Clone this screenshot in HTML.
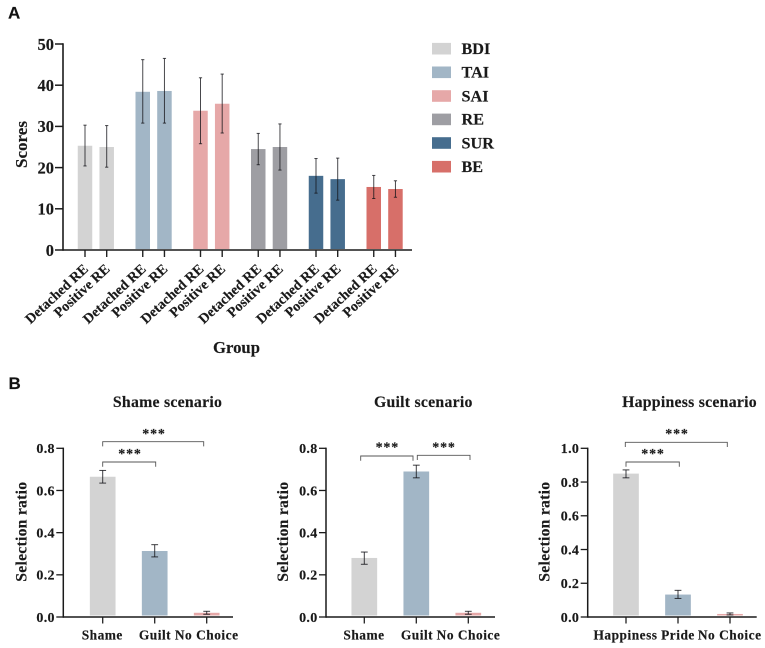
<!DOCTYPE html>
<html>
<head>
<meta charset="utf-8">
<title>Scores and selection ratios</title>
<style>
html,body{margin:0;padding:0;background:#fff;}
svg{display:block;filter:blur(0.3px);}
text{font-family:"Liberation Serif",serif;font-weight:bold;fill:#1a1a1a;stroke:#1a1a1a;stroke-width:0.15px;}
.panel{font-family:"Liberation Sans",sans-serif;font-size:17px;fill:#111;}
</style>
</head>
<body>
<svg id="fig" xmlns="http://www.w3.org/2000/svg" width="765" height="648" viewBox="0 0 765 648">
<text class="panel" x="8" y="18.5">A</text>
<text class="panel" x="8.5" y="389">B</text>
</svg>
<script>
const scoreGroups = ['BDI','TAI','SAI','RE','SUR','BE'];
const scoreConditions = ['Detached RE','Positive RE'];
const scoreColors = ['#d3d3d3','#a2b6c6','#e6a8a8','#9e9ea3','#466d8e','#d76f69'];
const scoreValues = [[25.3,25.0],[38.4,38.6],[33.8,35.5],[24.5,25.0],[18.0,17.2],[15.3,14.8]];
const scoreUpper = [[30.3,30.2],[46.2,46.5],[41.8,42.7],[28.3,30.6],[22.2,22.3],[18.1,16.8]];
const scoreLower = [[20.4,20.1],[30.8,30.8],[25.8,28.4],[20.7,19.4],[13.8,12.1],[12.5,12.8]];
const scoreTicks = [0,10,20,30,40,50];

const shameCats = ['Shame','Guilt','No Choice'];
const shameVals = [0.665,0.313,0.020];
const shameUp = [0.695,0.343,0.027];
const shameLow = [0.635,0.285,0.013];
const guiltCats = ['Shame','Guilt','No Choice'];
const guiltVals = [0.280,0.690,0.020];
const guiltUp = [0.308,0.720,0.027];
const guiltLow = [0.250,0.660,0.013];
const happyCats = ['Happiness','Pride','No Choice'];
const happyVals = [0.850,0.133,0.018];
const happyUp = [0.872,0.158,0.024];
const happyLow = [0.825,0.110,0.012];
const ticks08 = [0,0.2,0.4,0.6,0.8];
const ticks10 = [0,0.2,0.4,0.6,0.8,1.0];
const ratioColors = ['#d3d3d3','#a2b6c6','#e6a8a8'];

const NS = 'http://www.w3.org/2000/svg';
const fig = document.getElementById('fig');
function mk(tag, attrs, name, parent) {
  const el = document.createElementNS(NS, tag);
  for (const k in attrs) el.setAttribute(k, attrs[k]);
  
  
  (parent || fig).appendChild(el);
  return el;
}
function txt(s, attrs, name, parent) {
  const el = mk('text', attrs, name, parent);
  el.textContent = s;
  return el;
}
function line(x1, y1, x2, y2, stroke, w, name, parent) {
  return mk('line', {x1, y1, x2, y2, stroke, 'stroke-width': w}, name, parent);
}
function errorBar(x, yTop, yBot, cap, stroke, name, parent) {
  line(x, yTop, x, yBot, stroke, 1, name + '-stem', parent);
  line(x - cap, yTop, x + cap, yTop, stroke, 1, name + '-cap-top', parent);
  line(x - cap, yBot, x + cap, yBot, stroke, 1, name + '-cap-bottom', parent);
}

/* Panel A */
(function () {
  const g = mk('g', {}, 'scores-chart');
  const axisX = 63, y0 = 250, yTop = 44, right = 412;
  const y = v => y0 - (v / 50) * (y0 - yTop);
  const x = (gi, ci) => 85 + gi * 57.75 + ci * 21.7;
  const barW = 14.5;
  scoreGroups.forEach((name, gi) => {
    scoreConditions.forEach((cond, ci) => {
      const cx = x(gi, ci);
      const id = name.toLowerCase() + '-' + (ci ? 'positive' : 'detached');
      mk('rect', {x: cx - barW / 2, y: y(scoreValues[gi][ci]), width: barW, height: y0 - 1 - y(scoreValues[gi][ci]), fill: scoreColors[gi]}, 'bar-' + id, g);
      errorBar(cx, y(scoreUpper[gi][ci]), y(scoreLower[gi][ci]), 1.6, 'rgba(20,20,25,0.78)', 'error-bar-' + id, g);
      line(cx, y0, cx, y0 + 7, '#222', 1.4, 'x-tick-' + id, g);
      txt(cond, {x: cx + 4, y: y0 + 20, 'text-anchor': 'end', 'font-size': 14.2, transform: 'rotate(-43 ' + (cx + 4) + ' ' + (y0 + 20) + ')'}, 'x-tick-label-' + id, g);
    });
  });
  line(axisX, y0, right, y0, '#1a1a1a', 1.6, 'x-axis-line', g);
  line(axisX, yTop - 0.7, axisX, y0 + 0.7, '#1a1a1a', 1.6, 'y-axis-line', g);
  scoreTicks.forEach(t => {
    line(axisX - 8, y(t), axisX, y(t), '#1a1a1a', 1.5, 'y-tick-' + t, g);
    txt(String(t), {x: axisX - 9, y: y(t) + 5.8, 'text-anchor': 'end', 'font-size': 16.5}, 'y-tick-label-' + t, g);
  });
  txt('Scores', {x: 0, y: 0, 'text-anchor': 'middle', 'font-size': 17, transform: 'translate(27 144.5) rotate(-90)'}, 'y-axis-title', g);
  txt('Group', {x: 236.5, y: 353, 'text-anchor': 'middle', 'font-size': 16.7}, 'x-axis-title', g);
  const legY = [48.7, 72.3, 96, 119.4, 143, 166.7];
  scoreGroups.forEach((name, i) => {
    mk('rect', {x: 432, y: legY[i] - 5.8, width: 19, height: 11.6, fill: scoreColors[i]}, 'legend-swatch-' + name.toLowerCase(), g);
    txt(name, {x: 461.5, y: legY[i] + 5.3, 'font-size': 16.2}, 'legend-label-' + name.toLowerCase(), g);
  });
})();

/* Panel B */
function ratioPanel(o) {
  const g = mk('g', {}, o.id + '-chart');
  const y0 = 617, yTop = 448.3;
  const y = v => y0 - (v / o.max) * (y0 - yTop);
  const x = i => o.first + i * 52;
  const barW = 25.7;
  o.cats.forEach((c, i) => {
    const id = c.toLowerCase().replace(' ', '-');
    mk('rect', {x: x(i) - barW / 2, y: y(o.vals[i]), width: barW, height: y0 - 1.5 - y(o.vals[i]), fill: ratioColors[i]}, 'bar-' + o.id + '-' + id, g);
    errorBar(x(i), y(o.up[i]), y(o.low[i]), 3.4, 'rgba(20,20,25,0.82)', 'error-bar-' + o.id + '-' + id, g);
    line(x(i), y0, x(i), y0 + 6.5, '#222', 1.3, 'x-tick-' + o.id + '-' + id, g);
    txt(c, {x: o.labelX[i], y: 639.5, 'text-anchor': 'middle', 'font-size': 13.4, 'letter-spacing': 0.5}, 'x-tick-label-' + o.id + '-' + id, g);
  });
  line(o.axisX, y0, o.right, y0, '#1a1a1a', 1.5, 'x-axis-line-' + o.id, g);
  line(o.axisX, yTop - 0.7, o.axisX, y0 + 0.7, '#1a1a1a', 1.5, 'y-axis-line-' + o.id, g);
  o.ticks.forEach(t => {
    line(o.axisX - 7, y(t), o.axisX, y(t), '#1a1a1a', 1.3, 'y-tick-' + o.id + '-' + t, g);
    txt(t.toFixed(1), {x: o.axisX - 8.5, y: y(t) + 4.8, 'text-anchor': 'end', 'font-size': 14, 'letter-spacing': 0.3}, 'y-tick-label-' + o.id + '-' + t, g);
  });
  txt('Selection ratio', {x: 0, y: 0, 'text-anchor': 'middle', 'font-size': 15.7, 'letter-spacing': 0.25, transform: 'translate(' + o.ylabelX + ' 531.7) rotate(-90)'}, 'y-axis-title-' + o.id, g);
  txt(o.title, {x: o.titleX, y: 407, 'text-anchor': 'middle', 'font-size': 15.8, 'letter-spacing': 0.25}, 'chart-title-' + o.id, g);
  o.brackets.forEach((b, i) => {
    mk('polyline', {points: b[0] + ',' + (b[2] + 4.7) + ' ' + b[0] + ',' + b[2] + ' ' + b[1] + ',' + b[2] + ' ' + b[1] + ',' + (b[2] + 4.7), fill: 'none', stroke: '#555', 'stroke-width': 0.9}, 'significance-bracket-' + o.id + '-' + (i + 1), g);
    txt('***', {x: b[3], y: b[4], 'text-anchor': 'middle', 'font-size': 14, 'letter-spacing': 0.8}, 'significance-stars-' + o.id + '-' + (i + 1), g);
  });
}
ratioPanel({id: 'shame', title: 'Shame scenario', titleX: 167.5, cats: shameCats, vals: shameVals, up: shameUp, low: shameLow, ticks: ticks08, max: 0.8,
  axisX: 63.3, right: 233, first: 102.7, ylabelX: 26.7, labelX: [102.3, 155, 206.7],
  brackets: [[102.7, 155.7, 462, 130, 458], [102.7, 203.7, 441.7, 154, 438]]});
ratioPanel({id: 'guilt', title: 'Guilt scenario', titleX: 423.3, cats: guiltCats, vals: guiltVals, up: guiltUp, low: guiltLow, ticks: ticks08, max: 0.8,
  axisX: 326, right: 495, first: 364.3, ylabelX: 288, labelX: [364, 417, 468.5],
  brackets: [[360.7, 413, 456, 387.3, 451.5], [417.3, 470, 455.3, 444, 451.5]]});
ratioPanel({id: 'happiness', title: 'Happiness scenario', titleX: 689.5, cats: happyCats, vals: happyVals, up: happyUp, low: happyLow, ticks: ticks10, max: 1.0,
  axisX: 587.7, right: 756.7, first: 626, ylabelX: 549.5, labelX: [625.5, 678, 729.7],
  brackets: [[626, 679.3, 462, 653, 458], [625.3, 727.3, 442.3, 677, 438]]});
</script>
</body>
</html>
